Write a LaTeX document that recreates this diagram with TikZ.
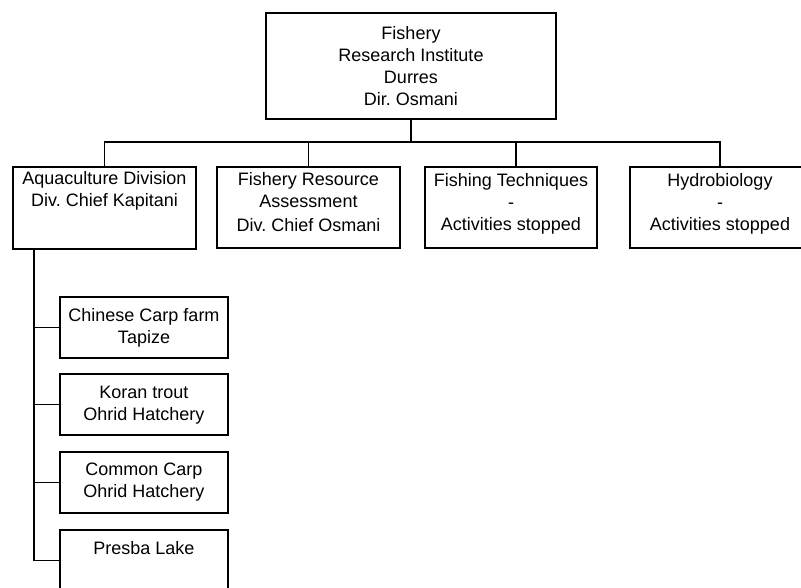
\documentclass[tikz,border=0pt]{standalone}
\usepackage{fontspec}
\setmainfont{Liberation Sans}
\frenchspacing
\begin{document}
\begin{tikzpicture}[x=1pt,y=-1pt,
  box/.style={draw, line width=1.8pt, inner sep=0pt, rectangle},
  txt/.style={font=\fontsize{18}{22}\selectfont, align=center, inner sep=0pt, anchor=north},
  conn/.style={line width=1.8pt, line join=miter}]
\useasboundingbox (0,0) rectangle (801,587);
\clip (0,0) rectangle (801,587);
% top
\node[box, minimum width=290, minimum height=106] (T) at (411,66) {};
\node[txt] (Tt) at ([yshift=-14pt]T.north) {Fishery\\Research Institute\\Durres\\Dir. Osmani};
% divisions
\node[box, minimum width=183, minimum height=82] (A) at (104.5,208) {};
\node[txt] (At) at ([yshift=-5pt]A.north) {Aquaculture Division\\Div. Chief Kapitani};
\node[box, minimum width=183, minimum height=81] (B) at (308.5,207.5) {};
\node[txt] (Bt) at ([yshift=-6pt]B.north) {Fishery Resource\\Assessment\\[2pt]Div. Chief Osmani};
\node[box, minimum width=172, minimum height=81] (C) at (511,207.5) {};
\node[txt] (Ct) at ([yshift=-7pt]C.north) {Fishing Techniques\\-\\Activities stopped};
\node[box, minimum width=180, minimum height=81] (D) at (720,207.5) {};
\node[txt] (Dt) at ([yshift=-7pt]D.north) {Hydrobiology\\-\\Activities stopped};
% children
\node[box, minimum width=168, minimum height=61] (K1) at (144,327.5) {};
\node[txt] (K1t) at ([yshift=-12pt]K1.north) {Chinese Carp farm\\Tapize};
\node[box, minimum width=168, minimum height=61] (K2) at (144,404.5) {};
\node[txt] (K2t) at ([yshift=-13pt]K2.north) {Koran trout\\Ohrid Hatchery};
\node[box, minimum width=168, minimum height=61] (K3) at (144,482.5) {};
\node[txt] (K3t) at ([yshift=-12pt]K3.north) {Common Carp\\Ohrid Hatchery};
\node[box, minimum width=168, minimum height=61] (K4) at (144,560.5) {};
\node[txt] (K4t) at ([yshift=-12pt]K4.north) {Presba Lake};
% connectors
\coordinate (bus) at (0,142);
\coordinate (sp) at (34,0);
\draw[conn] (A.north) |- (D.north |- bus) -- (D.north);
\draw[conn] (T.south) -- (T.south |- bus);
\draw[conn] (B.north) -- (B.north |- bus);
\draw[conn] ([xshift=5pt]C.north) -- ([xshift=5pt]C.north |- bus);
\draw[conn] (sp |- A.south) |- (K4.west);
\draw[conn] (K1.west) -- (K1.west -| sp);
\draw[conn] (K2.west) -- (K2.west -| sp);
\draw[conn] (K3.west) -- (K3.west -| sp);
\end{tikzpicture}
\end{document}
